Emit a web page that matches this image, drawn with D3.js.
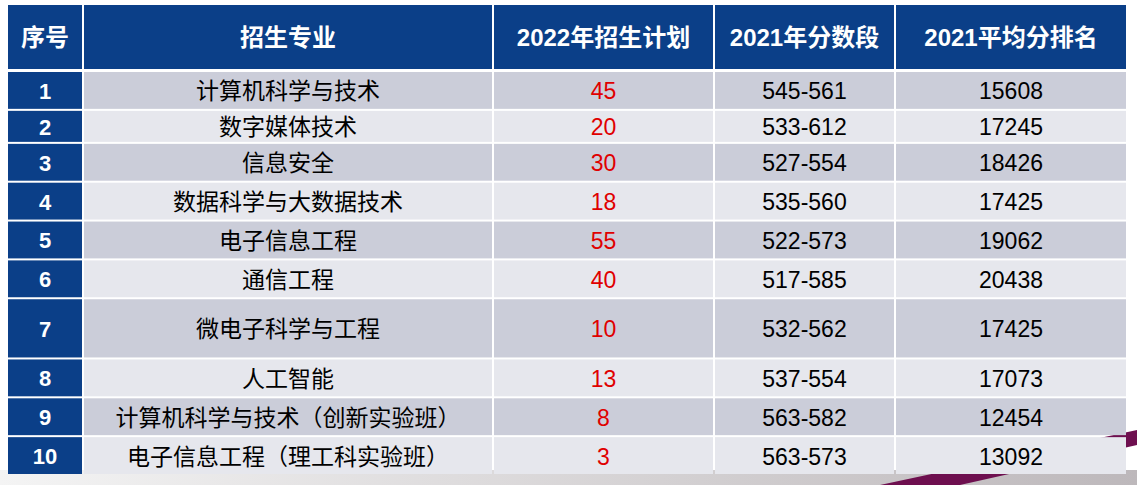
<!DOCTYPE html>
<html><head><meta charset="utf-8">
<script src="https://cdn.jsdelivr.net/npm/d3@7"></script>
<style>body{margin:0;background:#fff;overflow:hidden}</style>
</head><body><div id="chart"></div>
<script>
// --- Data ---
const headers = ["序号", "招生专业", "2022年招生计划", "2021年分数段", "2021平均分排名"];
const majors = ["计算机科学与技术", "数字媒体技术", "信息安全", "数据科学与大数据技术", "电子信息工程", "通信工程", "微电子科学与工程", "人工智能", "计算机科学与技术（创新实验班）", "电子信息工程（理工科实验班）"];
const plan2022 = [45, 20, 30, 18, 55, 40, 10, 13, 8, 3];
const scoreRange2021 = ["545-561", "533-612", "527-554", "535-560", "522-573", "517-585", "532-562", "537-554", "563-582", "563-573"];
const avgRank2021 = [15608, 17245, 18426, 17425, 19062, 20438, 17425, 17073, 12454, 13092];
// relative row heights (row 7 is taller)
const rowWeights = [1, 0.85, 1, 1, 1, 1, 1.55, 1, 1, 1];

const width = 1137, height = 485;
const svg = d3.select("#chart").append("svg").attr("width", width).attr("height", height);
const font = "'Liberation Sans', 'Noto Sans CJK SC', sans-serif";

// background decoration at bottom
const grad = svg.append("defs").append("linearGradient").attr("id", "bg").attr("x1", 0).attr("x2", 1);
grad.append("stop").attr("offset", "0%").attr("stop-color", "#f4f4f4");
grad.append("stop").attr("offset", "100%").attr("stop-color", "#bdb8bb");
svg.append("rect").attr("x", 0).attr("y", 470).attr("width", width).attr("height", 15).attr("fill", "url(#bg)");
svg.append("path").attr("d", "M880,485 L1137,430 L1137,445 L960,485 Z").attr("fill", "#6e0f4f");

// --- Scales ---
const colEdges = [8, 84, 494, 715, 896, 1128];
const header = { y0: 5, y1: 69 };
const cum = [0]; rowWeights.forEach(w => cum.push(cum[cum.length - 1] + w));
const y = d3.scaleLinear().domain([0, cum[cum.length - 1]]).range([71, 475]);
const gap = 2;

const hdr = svg.append("g");
headers.forEach((h, i) => {
  hdr.append("rect").attr("x", colEdges[i]).attr("y", header.y0)
    .attr("width", colEdges[i + 1] - colEdges[i] - gap).attr("height", header.y1 - header.y0)
    .attr("fill", "#0b3f88");
  hdr.append("text").attr("x", (colEdges[i] + colEdges[i + 1] - gap) / 2).attr("y", (header.y0 + header.y1) / 2)
    .attr("text-anchor", "middle").attr("dominant-baseline", "central")
    .style("font-family", font).style("font-size", "24px").style("font-weight", "bold")
    .style("fill", "#fff").text(h);
});

const body = svg.append("g");
majors.forEach((m, r) => {
  const y0 = y(cum[r]) + 1, y1 = y(cum[r + 1]) - 1;
  const cells = [r + 1, m, plan2022[r], scoreRange2021[r], avgRank2021[r]];
  cells.forEach((c, i) => {
    const fill = i === 0 ? "#0b3f88" : (r % 2 === 0 ? "#cbcdd9" : "#e6e7ed");
    body.append("rect").attr("x", colEdges[i]).attr("y", y0)
      .attr("width", colEdges[i + 1] - colEdges[i] - gap).attr("height", y1 - y0).attr("fill", fill);
    body.append("text").attr("x", (colEdges[i] + colEdges[i + 1] - gap) / 2).attr("y", (y0 + y1) / 2 + 1)
      .attr("text-anchor", "middle").attr("dominant-baseline", "central")
      .style("font-family", font).style("font-size", i === 0 ? "22px" : "23px")
      .style("font-weight", i === 0 ? "bold" : "normal")
      .style("fill", i === 0 ? "#fff" : i === 2 ? "#e00000" : "#000")
      .text(c);
  });
});
</script></body></html>
